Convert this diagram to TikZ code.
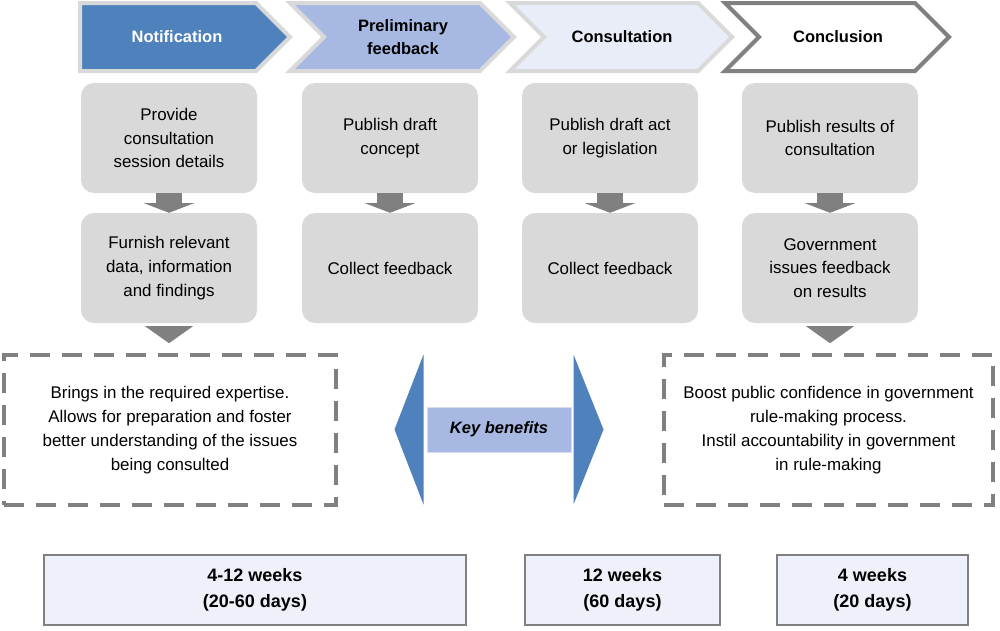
\documentclass[tikz,border=0pt]{standalone}
\usepackage{fontspec}
\setmainfont{Liberation Sans}
\usetikzlibrary{calc}
\definecolor{blueA}{HTML}{4F81BD}
\definecolor{blueB}{HTML}{A7B9E3}
\definecolor{blueC}{HTML}{E9EDF7}
\definecolor{lgray}{HTML}{D9D9D9}
\definecolor{mgray}{HTML}{808080}
\definecolor{boxblue}{HTML}{EEF1F9}
\definecolor{kbborder}{HTML}{D6DEF0}
\begin{document}
\begin{tikzpicture}[x=1pt,y=-1pt,
  every node/.style={font=\fontsize{16.9}{23.8}\selectfont, align=center, inner sep=0pt},
  chev/.style={line width=4pt, line join=miter, draw=lgray},
  headtxt/.style={font=\fontsize{16.5}{23.5}\selectfont\bfseries},
  stepbox/.style={fill=lgray, rounded corners=13pt, minimum width=176pt, minimum height=110pt},
  arrowfill/.style={fill=mgray},
  dashbox/.style={draw=mgray, line width=4pt, dash pattern=on 20pt off 12pt, minimum height=150pt},
  timebox/.style={draw=mgray, fill=boxblue, line width=1.2pt, minimum height=70pt,
    font=\fontsize{18}{26}\selectfont\bfseries},
  bluetri/.style={fill=blueA}
]
\useasboundingbox (0,0) rectangle (1000,630);

% chevrons
\path[chev, fill=blueA] (80,3) -- (256,3) -- (290,37) -- (256,71) -- (80,71) -- cycle;
\path[chev, fill=blueB] (290,3) -- (480,3) -- (514,37) -- (480,71) -- (290,71) -- (324,37) -- cycle;
\path[chev, fill=blueC] (510,3) -- (698,3) -- (732,37) -- (698,71) -- (510,71) -- (544,37) -- cycle;
\path[chev, draw=mgray, fill=white] (725,3) -- (915,3) -- (949,37) -- (915,71) -- (725,71) -- (759,37) -- cycle;

\node[headtxt, text=white] (h1) at (177,37) {Notification};
\node[headtxt] (h2) at (403,37) {Preliminary\\feedback};
\node[headtxt] (h3) at (622,37) {Consultation};
\node[headtxt] (h4) at (838,37) {Conclusion};

% step boxes
\node[stepbox] (a1) at (169,138) {Provide\\consultation\\session details};
\node[stepbox] (a2) at (390,138) {Publish draft\\concept};
\node[stepbox] (a3) at (610,138) {Publish draft act\\or legislation};
\node[stepbox] (a4) at (830,138) {Publish results of\\consultation};

\node[stepbox] (b1) at (169,268) {Furnish relevant\\data, information\\and findings};
\node[stepbox] (b2) at (390,268) {Collect feedback};
\node[stepbox] (b3) at (610,268) {Collect feedback};
\node[stepbox] (b4) at (830,268) {Government\\issues feedback\\on results};

\foreach \i in {1,2,3,4}{
  \fill[arrowfill] ($(a\i.south)+(-13,0)$) rectangle ($(a\i.south)+(13,10)$);
  \fill[arrowfill] ($(a\i.south)+(-25,10)$) -- ($(a\i.south)+(25,10)$) -- (b\i.north) -- cycle;
}

% dashed benefit boxes
\node[dashbox, minimum width=332pt] (dl) at (170,430)
  {Brings in the required expertise.\\Allows for preparation and foster\\better understanding of the issues\\being consulted};
\node[dashbox, minimum width=329pt] (dr) at (828.5,430)
  {Boost public confidence in government\\rule-making process.\\Instil accountability in government\\in rule-making};

\coordinate (e1) at ($(b1.south)+(0,20)$);
\coordinate (e4) at ($(b4.south)+(0,20)$);
\fill[arrowfill] ($(b1.south)+(-24,3)$) -- ($(b1.south)+(24,3)$) -- (e1) -- cycle;
\fill[arrowfill] ($(b4.south)+(-24,3)$) -- ($(b4.south)+(24,3)$) -- (e4) -- cycle;

% key benefits
\node[fill=blueB, draw=kbborder, line width=1pt, minimum width=144pt, minimum height=45pt,
  font=\fontsize{16.5}{23.5}\selectfont\bfseries\itshape] (kb) at (499,429.5) {Key benefits};
\fill[bluetri] ($(kb.west)+(-3,-75)$) -- ($(kb.west)+(-32,0)$) -- ($(kb.west)+(-3,75)$) -- cycle;
\fill[bluetri] ($(kb.east)+(2,-75)$) -- ($(kb.east)+(32,0)$) -- ($(kb.east)+(2,75)$) -- cycle;

% time boxes
\node[timebox, minimum width=422pt] (t1) at (255,590) {4-12 weeks\\(20-60 days)};
\node[timebox, minimum width=195pt] (t2) at (622.5,590) {12 weeks\\(60 days)};
\node[timebox, minimum width=191pt] (t3) at (872.5,590) {4 weeks\\(20 days)};
\end{tikzpicture}
\end{document}
